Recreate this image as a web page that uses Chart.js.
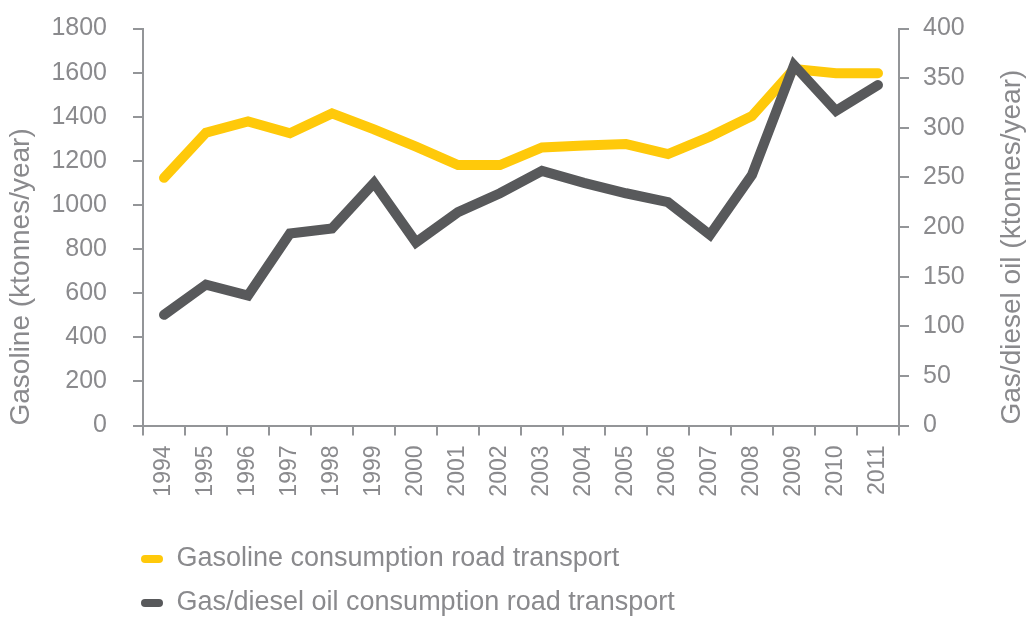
<!DOCTYPE html>
<html>
<head>
<meta charset="utf-8">
<script src="https://cdn.jsdelivr.net/npm/chart.js@4/dist/chart.umd.min.js"></script>
<style>
  html, body { margin: 0; padding: 0; background: #ffffff; }
  #wrap { width: 1033px; height: 617px; position: relative; }
</style>
</head>
<body>
<div id="wrap"><canvas id="c"></canvas></div>
<script>
const years = ['1994','1995','1996','1997','1998','1999','2000','2001','2002','2003','2004','2005','2006','2007','2008','2009','2010','2011'];
const gasoline = [1123, 1328, 1379, 1325, 1415, 1343, 1264, 1181, 1181, 1261, 1269, 1276, 1231, 1310, 1403, 1616, 1597, 1597];
const diesel = [111.5, 142, 131, 193.5, 198.5, 244.5, 184.5, 215, 234, 256.5, 244.5, 234, 225, 192, 252.5, 363, 317, 343];
const seriesNames = ['Gasoline consumption road transport', 'Gas/diesel oil consumption road transport'];
const leftTitle = 'Gasoline (ktonnes/year)';
const rightTitle = 'Gas/diesel oil (ktonnes/year)';

const YELLOW = '#ffc90a';
const GREY = '#58595b';
const TEXT = '#8a8a8d';
const AXIS = '#939598';
const FONT = '"Liberation Sans", Arial, sans-serif';
const LEGEND_PAD = 17;

const rightTitlePlugin = {
  id: 'rightTitle',
  beforeDraw(chart) {
    // pull the legend flush with the plot's left edge
    if (chart.legend) {
      const w = chart.legend.right - chart.legend.left;
      chart.legend.left = chart.chartArea.left - LEGEND_PAD - 2;
      chart.legend.right = chart.legend.left + w;
    }
  },
  afterDraw(chart) {
    const s = chart.scales.y1;
    const ctx = chart.ctx;
    ctx.save();
    ctx.translate(s.right - 21, s.bottom - 1);
    ctx.rotate(-Math.PI / 2);
    ctx.font = '28px ' + FONT;
    ctx.fillStyle = TEXT;
    ctx.textAlign = 'left';
    ctx.textBaseline = 'middle';
    ctx.fillText(rightTitle, 0, 0);
    ctx.restore();
  }
};

const plain = v => String(v);

new Chart(document.getElementById('c'), {
  type: 'line',
  data: {
    labels: years,
    datasets: [
      {
        label: seriesNames[0],
        data: gasoline,
        yAxisID: 'y',
        borderColor: YELLOW,
        backgroundColor: YELLOW,
        borderWidth: 10,
        borderCapStyle: 'round',
        borderJoinStyle: 'miter',
        pointRadius: 0,
        tension: 0,
        order: 1
      },
      {
        label: seriesNames[1],
        data: diesel,
        yAxisID: 'y1',
        borderColor: GREY,
        backgroundColor: GREY,
        borderWidth: 10,
        borderCapStyle: 'round',
        borderJoinStyle: 'miter',
        pointRadius: 0,
        tension: 0,
        order: 0
      }
    ]
  },
  options: {
    responsive: true,
    maintainAspectRatio: false,
    animation: false,
    layout: { padding: { top: 28.5, left: 0, right: 0, bottom: -9.5 } },
    plugins: {
      tooltip: { enabled: false },
      legend: {
        position: 'bottom',
        align: 'start',
        fullSize: false,
        labels: {
          color: TEXT,
          font: { family: FONT, size: 27 },
          boxWidth: 22,
          boxHeight: 8,
          useBorderRadius: true,
          borderRadius: 4,
          padding: LEGEND_PAD,
          sort: (a, b) => a.datasetIndex - b.datasetIndex,
          generateLabels(chart) {
            const items = Chart.defaults.plugins.legend.labels.generateLabels(chart);
            items.forEach(it => { it.lineWidth = 0; it.fillStyle = it.strokeStyle; });
            return items;
          }
        }
      }
    },
    scales: {
      x: {
        type: 'category',
        offset: true,
        grid: { display: true, drawOnChartArea: false, drawTicks: true, tickLength: 10, offset: true, color: AXIS, lineWidth: 2 },
        border: { display: true, color: AXIS, width: 2 },
        ticks: { color: TEXT, font: { family: FONT, size: 23 }, minRotation: 90, maxRotation: 90, autoSkip: false, padding: 10 },
        afterFit(s) { s.height = 103; s.paddingTop = 0; s.paddingBottom = 0; }
      },
      y: {
        position: 'left',
        min: 0, max: 1800,
        grid: { display: true, drawOnChartArea: false, drawTicks: true, tickLength: 10, color: AXIS, lineWidth: 2 },
        border: { display: true, color: AXIS, width: 2 },
        ticks: { stepSize: 200, color: TEXT, font: { family: FONT, size: 25 }, padding: 26, callback: plain },
        title: { display: true, text: leftTitle, color: TEXT, align: 'start', font: { family: FONT, size: 28 }, padding: { top: 4, bottom: 0 } },
        afterFit(s) { s.width = 143; s.paddingTop = 0; s.paddingBottom = 0; }
      },
      y1: {
        position: 'right',
        min: 0, max: 400,
        grid: { display: true, drawOnChartArea: false, drawTicks: true, tickLength: 10, color: AXIS, lineWidth: 2 },
        border: { display: true, color: AXIS, width: 2 },
        ticks: { stepSize: 50, color: TEXT, font: { family: FONT, size: 25 }, padding: 14, callback: plain },
        afterFit(s) { s.width = 134; s.paddingTop = 0; s.paddingBottom = 0; }
      }
    }
  },
  plugins: [rightTitlePlugin]
});
</script>
</body>
</html>
